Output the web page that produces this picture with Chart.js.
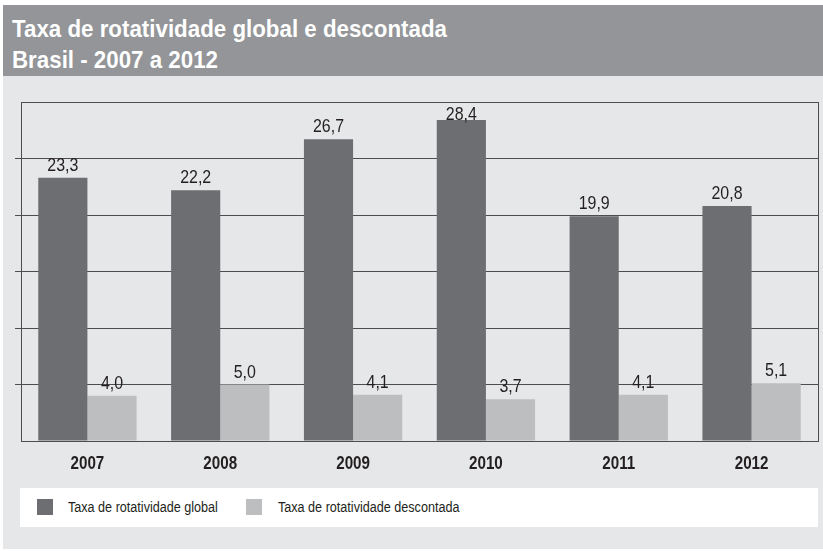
<!DOCTYPE html>
<html lang="pt">
<head>
  <meta charset="UTF-8" />
  <title>Taxa de rotatividade</title>
  <script src="https://cdn.jsdelivr.net/npm/chart.js"></script>
  <style>
    body {
      margin: 0;
      width: 823px;
      height: 551px;
      background: #fff;
      position: relative;
      overflow: hidden;
      font-family: "Liberation Sans", Arial, sans-serif;
    }
    .header {
      position: absolute;
      left: 3px;
      top: 5px;
      width: 820px;
      height: 71px;
      background: #939598;
      color: #fff;
      font-weight: bold;
      font-size: 24px;
      line-height: 31px;
    }
    .header div {
      margin-left: 9px;
      transform: scaleX(0.93);
      transform-origin: left center;
      white-space: nowrap;
    }
    .header .l1 { margin-top: 8px; }
    .panel {
      position: absolute;
      left: 3px;
      top: 76px;
      width: 820px;
      height: 473px;
      background: #e6e7e8;
    }
    .chart-box {
      position: absolute;
      left: 0;
      top: 76px;
      width: 823px;
      height: 410px;
    }
    .legend {
      position: absolute;
      left: 20px;
      top: 488px;
      width: 798px;
      height: 39px;
      background: #fff;
      font-size: 14px;
      color: #231f20;
    }
    .legend span.sw {
      position: absolute;
      top: 11px;
      width: 16px;
      height: 16px;
    }
    .legend span.tx {
      position: absolute;
      top: 11px;
      line-height: 16px;
      white-space: nowrap;
      transform: scaleX(0.9);
      transform-origin: left center;
    }
  </style>
</head>
<body>
  <div class="header">
    <div class="l1">Taxa de rotatividade global e descontada</div>
    <div>Brasil - 2007 a 2012</div>
  </div>
  <div class="panel"></div>
  <div class="chart-box"><canvas id="chart"></canvas></div>
  <div class="legend" id="legend"></div>

  <script>
    const years = ['2007', '2008', '2009', '2010', '2011', '2012'];
    const taxaGlobal = [23.3, 22.2, 26.7, 28.4, 19.9, 20.8];
    const taxaDescontada = [4.0, 5.0, 4.1, 3.7, 4.1, 5.1];
    const seriesNames = ['Taxa de rotatividade global', 'Taxa de rotatividade descontada'];
    const colors = ['#6d6e71', '#bcbec0'];

    const fontName = '"Liberation Sans", Arial, sans-serif';
    const lineColor = '#4d4d4f';
    const textColor = '#231f20';

    // draw text squeezed horizontally, to imitate a condensed face
    function narrowText(ctx, txt, x, y, sx) {
      ctx.save();
      ctx.translate(x, y);
      ctx.scale(sx, 1);
      ctx.fillText(txt, 0, 0);
      ctx.restore();
    }

    // value labels above bars (comma decimals) and the year labels under the axis
    const barText = {
      id: 'barText',
      afterDatasetsDraw(chart) {
        const ctx = chart.ctx;
        const area = chart.chartArea;
        ctx.save();
        ctx.fillStyle = textColor;
        ctx.textAlign = 'center';
        ctx.textBaseline = 'alphabetic';
        ctx.font = '19px ' + fontName;
        chart.data.datasets.forEach((ds, i) => {
          chart.getDatasetMeta(i).data.forEach((bar, j) => {
            const txt = ds.data[j].toFixed(1).replace('.', ',');
            const y = Math.max(bar.y - 7, area.top + 18);
            narrowText(ctx, txt, bar.x, y, 0.84);
          });
        });
        const xs = chart.scales.x;
        ctx.font = 'bold 19px ' + fontName;
        xs.ticks.forEach((t, k) => {
          narrowText(ctx, xs.getLabelForValue(t.value), xs.getPixelForTick(k), area.bottom + 28, 0.8);
        });
        ctx.restore();
      }
    };

    new Chart(document.getElementById('chart'), {
      type: 'bar',
      data: {
        labels: years,
        datasets: [
          { label: seriesNames[0], data: taxaGlobal, backgroundColor: colors[0] },
          { label: seriesNames[1], data: taxaDescontada, backgroundColor: colors[1] }
        ]
      },
      options: {
        responsive: true,
        maintainAspectRatio: false,
        animation: false,
        layout: { padding: { top: 26, left: 0, right: 0, bottom: 0 } },
        datasets: {
          bar: { categoryPercentage: 0.74, barPercentage: 1.0 }
        },
        plugins: {
          legend: { display: false },
          tooltip: { enabled: false }
        },
        scales: {
          x: {
            grid: { display: false },
            border: { display: true, color: lineColor, width: 1 },
            ticks: { display: false },
            afterFit(scale) { scale.height = 45; }
          },
          y: {
            min: 0,
            max: 30,
            ticks: { stepSize: 5, display: false },
            grid: {
              color: lineColor,
              lineWidth: 1,
              tickLength: 6,
              tickColor: c => (c.tick.value === 0 || c.tick.value === 30) ? 'rgba(0,0,0,0)' : lineColor
            },
            border: { display: true, color: lineColor, width: 1 },
            afterFit(scale) { scale.width = 21; }
          },
          y2: {
            position: 'right',
            min: 0,
            max: 30,
            ticks: { display: false },
            grid: { display: false, drawTicks: false },
            border: { display: true, color: lineColor, width: 1 },
            afterFit(scale) { scale.width = 5; }
          }
        }
      },
      plugins: [barText]
    });

    // legend
    const legend = document.getElementById('legend');
    const legendX = [[17, 48], [226, 258]];
    seriesNames.forEach((name, i) => {
      const sw = document.createElement('span');
      sw.className = 'sw';
      sw.style.left = legendX[i][0] + 'px';
      sw.style.background = colors[i];
      legend.appendChild(sw);
      const tx = document.createElement('span');
      tx.className = 'tx';
      tx.style.left = legendX[i][1] + 'px';
      tx.textContent = name;
      legend.appendChild(tx);
    });
  </script>
</body>
</html>
